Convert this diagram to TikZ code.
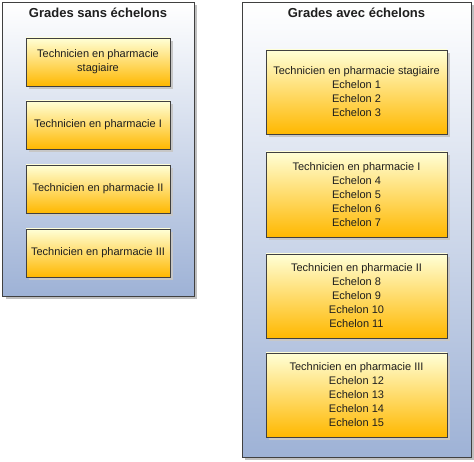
\documentclass[tikz,border=0pt]{standalone}
\usepackage{fontspec}
\setmainfont{Liberation Sans}
\usetikzlibrary{shadows}
\definecolor{boxtop}{RGB}{255,255,214}
\definecolor{boxbot}{RGB}{255,184,0}
\definecolor{contbot}{RGB}{158,178,214}
\definecolor{edge}{RGB}{64,64,64}
\definecolor{txt}{RGB}{30,30,30}
\tikzset{
  container/.style={draw=edge, line width=0.9pt, top color=white, bottom color=contbot,
    drop shadow={shadow xshift=3pt, shadow yshift=-3pt, fill=black!25, opacity=1},
    inner sep=0pt},
  gradebox/.style={draw=edge, line width=0.9pt, top color=boxtop, bottom color=boxbot,
    drop shadow={shadow xshift=3pt, shadow yshift=-3pt, fill=black!22, opacity=1},
    inner sep=0pt, align=center, text=txt,
    font=\fontsize{11pt}{14pt}\selectfont},
  title/.style={font=\fontsize{13pt}{15pt}\selectfont\bfseries, text=txt, inner sep=0pt}
}
\begin{document}
\begin{tikzpicture}[x=1pt,y=-1pt]
\useasboundingbox (0,0) rectangle (474,462);
% containers
\node[container, minimum width=191.5pt, minimum height=293.5pt] (left) at (98.25,149.25) {};
\node[container, minimum width=229pt, minimum height=454.5pt] (right) at (356.5,229.75) {};
\node[title] (lt) at (98,13) {Grades sans échelons};
\node[title] (rt) at (356.5,13) {Grades avec échelons};
% left boxes
\node[gradebox, minimum width=144pt, minimum height=48pt] (l1) at (98,62) {Technicien en pharmacie\\stagiaire};
\node[gradebox, minimum width=144pt, minimum height=48pt] (l2) at (98,125) {Technicien en pharmacie I};
\node[gradebox, minimum width=144pt, minimum height=48pt] (l3) at (98,189) {Technicien en pharmacie II};
\node[gradebox, minimum width=144pt, minimum height=48pt] (l4) at (98,253) {Technicien en pharmacie III};
% right boxes
\node[gradebox, minimum width=181pt, minimum height=84pt] (r1) at (356.5,92) {Technicien en pharmacie stagiaire\\Echelon 1\\Echelon 2\\Echelon 3};
\node[gradebox, minimum width=181pt, minimum height=85pt] (r2) at (356.5,194.5) {Technicien en pharmacie I\\Echelon 4\\Echelon 5\\Echelon 6\\Echelon 7};
\node[gradebox, minimum width=181pt, minimum height=84pt] (r3) at (356.5,296) {Technicien en pharmacie II\\Echelon 8\\Echelon 9\\Echelon 10\\Echelon 11};
\node[gradebox, minimum width=181pt, minimum height=84pt] (r4) at (356.5,395) {Technicien en pharmacie III\\Echelon 12\\Echelon 13\\Echelon 14\\Echelon 15};
\end{tikzpicture}
\end{document}
